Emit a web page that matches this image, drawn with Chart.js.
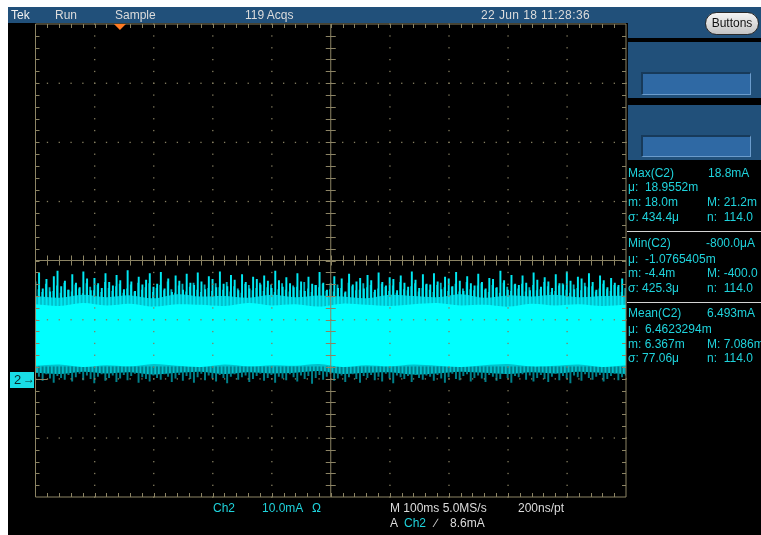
<!DOCTYPE html>
<html>
<head>
<meta charset="utf-8">
<script src="https://cdn.jsdelivr.net/npm/chart.js@4.4.1/dist/chart.umd.min.js"></script>
<style>
body{margin:0;background:#fff}
#scope{position:relative;width:761px;height:535px;overflow:hidden;font-family:"Liberation Sans",Arial,sans-serif;font-size:12px}
#scope div{position:absolute}
.t{line-height:12px;white-space:pre;color:#dcdcdc}
.c{color:#1fd3dc}
.box{background:#21507a}
.inner{background:#2f69a4;border-top:2px solid #173a5a;border-left:2px solid #173a5a;border-bottom:1px solid #6b9ccc;border-right:1px solid #6b9ccc;box-sizing:border-box}
.sep{height:1px;background:#d4d4d4;left:627px;width:134px}
canvas{position:absolute;left:0;top:0}
</style>
</head>
<body>
<div id="scope">
  <div style="left:8px;top:7px;width:753px;height:528px;background:#000"></div>
  <div class="box" style="left:8px;top:7px;width:753px;height:16px"></div>
  <div class="box" style="left:628px;top:23px;width:133px;height:15px"></div>
  <div class="box" style="left:628px;top:42px;width:133px;height:56px"></div>
  <div class="inner" style="left:641px;top:72px;width:110px;height:23px"></div>
  <div class="box" style="left:628px;top:105px;width:133px;height:55px"></div>
  <div class="inner" style="left:641px;top:135px;width:110px;height:22px"></div>
  <div class="sep" style="top:231px"></div>
  <div class="sep" style="top:302px"></div>

  <canvas id="scopeChart" width="761" height="535"></canvas>

  <!-- status bar -->
  <div class="t" style="left:11px;top:9px;color:#f0f0f0">Tek</div>
  <div class="t" style="left:55px;top:9px">Run</div>
  <div class="t" style="left:115px;top:9px">Sample</div>
  <div class="t" style="left:245px;top:9px">119 Acqs</div>
  <div class="t" style="left:481px;top:9px;letter-spacing:0.4px">22 Jun 18 11:28:36</div>
  <div style="left:705px;top:12px;width:54px;height:23px;box-sizing:border-box;border:1px solid #2a2a2a;border-radius:12px;background:linear-gradient(#f4f4f4,#c4c4c4);color:#111;line-height:21px;text-align:center">Buttons</div>

  <!-- measurements -->
  <div class="t c" style="left:628px;top:167px">Max(C2)</div>
  <div class="t c" style="left:708px;top:167px">18.8mA</div>
  <div class="t c" style="left:628px;top:181px">μ:  18.9552m</div>
  <div class="t c" style="left:628px;top:196px">m: 18.0m</div>
  <div class="t c" style="left:707px;top:196px">M: 21.2m</div>
  <div class="t c" style="left:628px;top:211px">σ: 434.4μ</div>
  <div class="t c" style="left:707px;top:211px">n:  114.0</div>

  <div class="t c" style="left:628px;top:237px">Min(C2)</div>
  <div class="t c" style="left:706px;top:237px">-800.0μA</div>
  <div class="t c" style="left:628px;top:253px">μ:  -1.0765405m</div>
  <div class="t c" style="left:628px;top:267px">m: -4.4m</div>
  <div class="t c" style="left:707px;top:267px">M: -400.0</div>
  <div class="t c" style="left:628px;top:282px">σ: 425.3μ</div>
  <div class="t c" style="left:707px;top:282px">n:  114.0</div>

  <div class="t c" style="left:628px;top:307px">Mean(C2)</div>
  <div class="t c" style="left:707px;top:307px">6.493mA</div>
  <div class="t c" style="left:628px;top:323px">μ:  6.4623294m</div>
  <div class="t c" style="left:628px;top:338px">m: 6.367m</div>
  <div class="t c" style="left:707px;top:338px">M: 7.086m</div>
  <div class="t c" style="left:628px;top:352px">σ: 77.06μ</div>
  <div class="t c" style="left:707px;top:352px">n:  114.0</div>

  <!-- channel marker -->
  <div style="left:10px;top:372px;width:24px;height:16px;background:#19dde6"></div>
  <div class="t" style="left:14px;top:374px;color:#0a2a2a;font-size:13px">2</div>
  <div class="t" style="left:23px;top:373px;color:#0a2a2a;font-size:12px;font-weight:bold">→</div>

  <!-- bottom readout -->
  <div class="t c" style="left:213px;top:502px">Ch2</div>
  <div class="t c" style="left:262px;top:502px">10.0mA</div>
  <div class="t c" style="left:312px;top:502px">Ω</div>
  <div class="t" style="left:390px;top:502px">M 100ms 5.0MS/s</div>
  <div class="t" style="left:518px;top:502px">200ns/pt</div>
  <div class="t" style="left:390px;top:517px">A</div>
  <div class="t c" style="left:404px;top:517px">Ch2</div>
  <div class="t" style="left:435px;top:517px">∕</div>
  <div class="t" style="left:450px;top:517px">8.6mA</div>
</div>

<script>
// time base: 10 div x 100 ms, vertical: 10 mA/div, ground 2 div below centre
const timeMin = 0
const timeMax = 1000
const mAMin = -20
const mAMax = 60
const triggerPosMs = 143

// envelope of the dense band, sampled every 40 ms
const bandTimes = [0,40,80,120,160,200,240,280,320,360,400,440,480,520,560,600,640,680,720,760,800,840,880,920,960,1000]
const fuzzTop = [14.0,13.7,14.2,13.8,14.1,13.6,14.3,13.9,14.0,13.7,14.2,13.8,14.1,13.9,13.6,14.2,14.0,13.8,14.3,13.7,14.1,13.9,14.2,13.8,14.0,14.1]
const coreTop = [12.6,12.3,12.8,12.4,12.7,12.2,12.6,12.5,12.3,12.8,12.4,12.6,12.2,12.7,12.5,12.3,12.6,12.8,12.4,12.5,12.2,12.7,12.4,12.6,12.3,12.5]
const coreBottom = [2.2,2.4,2.0,2.3,2.1,2.5,2.2,2.0,2.4,2.1,2.3,2.2,2.5,2.0,2.3,2.1,2.4,2.2,2.0,2.3,2.5,2.1,2.2,2.4,2.0,2.3]
const fuzzBottom = [1.0,0.8,1.2,0.9,1.1,0.7,1.0,1.2,0.8,1.1,0.9,1.0,1.3,0.8,1.0,1.1,0.7,0.9,1.2,1.0,0.8,1.1,0.9,1.2,1.0,0.8]

// individual spikes, one every 6.25 ms, plus a weaker set in between
const spikeStepMs = 6.25
const spikeTops = [
  16.4,17.9,15.2,16.8,14.7,17.3,18.2,15.6,16.5,15.0,
  17.6,16.2,15.4,18.1,16.9,14.9,17.0,16.1,15.3,17.8,
  16.3,15.7,17.5,16.6,15.1,18.3,16.4,14.8,17.2,15.9,
  16.7,17.8,15.5,16.0,18.0,15.2,16.9,14.6,17.4,16.5,
  15.0,17.7,16.2,15.8,17.9,16.4,15.1,17.3,16.8,15.4,
  18.1,16.0,15.6,17.5,16.7,14.9,17.6,16.3,15.2,17.2,
  16.8,15.9,17.4,16.5,15.3,18.2,16.6,15.5,17.1,16.1,
  15.4,17.8,16.4,14.8,17.2,16.0,15.8,18.0,16.2,15.0,
  16.1,17.3,15.3,16.9,14.7,17.7,15.9,16.4,17.0,15.2,
  17.5,16.6,15.0,17.9,16.3,15.7,17.1,16.8,14.9,17.4,
  16.2,15.5,18.1,16.7,15.3,17.6,16.0,15.9,17.8,16.4,
  15.1,17.2,16.9,15.6,18.0,16.5,14.8,17.3,16.1,15.7,
  17.7,16.3,15.2,17.0,16.8,15.4,18.2,16.6,15.0,17.5,
  16.0,15.8,17.4,16.2,14.9,17.9,16.7,15.5,17.1,16.4,
  15.3,17.6,16.1,15.9,18.1,16.5,15.1,17.2,16.9,15.6,
  17.8,16.3,15.0,17.4,16.6,15.4,17.0,16.2,15.8,16.9
]
const minorSpikeTops = [
  15.1,14.6,16.0,15.4,14.8,15.7,14.5,16.2,15.0,14.7,
  15.9,15.2,14.4,16.1,15.5,14.9,15.8,14.6,16.3,15.3,
  14.8,15.6,16.0,14.5,15.2,15.9,14.7,16.2,15.0,15.4,
  16.1,14.6,15.3,15.8,14.9,16.4,15.1,14.5,15.7,16.0,
  14.7,15.5,16.2,15.0,14.6,15.9,15.3,14.8,16.1,15.4,
  15.0,16.3,14.7,15.6,15.2,14.5,16.0,15.8,14.9,15.3,
  16.2,14.8,15.4,15.9,14.6,15.1,16.1,15.0,14.7,15.7,
  15.5,14.9,16.3,15.2,14.6,15.8,15.4,16.0,14.8,15.1,
  14.7,15.9,15.3,14.5,16.2,15.6,14.9,15.0,16.1,15.4,
  15.8,14.6,15.2,16.0,15.5,14.8,15.7,14.5,16.3,15.1,
  14.9,15.6,16.1,14.7,15.3,15.9,15.0,14.6,15.8,16.2,
  15.4,14.8,15.5,16.0,14.7,15.2,16.3,15.1,14.9,15.7,
  16.1,15.0,14.6,15.8,15.3,14.5,16.2,15.5,14.8,15.9,
  15.2,16.0,14.7,15.4,15.8,14.9,15.1,16.3,15.6,14.6,
  14.8,15.7,16.1,15.0,14.5,15.9,15.3,14.9,16.2,15.4,
  15.6,14.7,15.2,16.0,15.1,14.8,15.8,15.5,14.6,15.3
]
const spikeDips = [
  0.4,-0.3,0.8,0.1,-0.6,0.5,0.2,-0.1,0.7,-0.4,
  0.3,0.9,-0.2,0.6,0.0,-0.7,0.4,0.8,-0.3,0.2,
  0.6,-0.5,0.1,0.7,-0.2,0.5,0.9,-0.6,0.3,0.0,
  -0.4,0.6,0.2,-0.1,0.8,0.4,-0.5,0.1,0.7,-0.3,
  0.5,0.0,-0.6,0.3,0.9,-0.2,0.6,0.1,-0.4,0.7,
  0.2,-0.7,0.4,0.8,-0.1,0.3,0.6,-0.5,0.0,0.5,
  0.9,-0.3,0.2,0.7,-0.6,0.4,0.1,-0.2,0.8,0.3,
  -0.4,0.6,0.0,0.5,-0.8,0.2,0.7,-0.1,0.4,0.9,
  -0.3,0.1,0.6,-0.5,0.3,0.8,0.0,-0.6,0.5,0.2,
  0.7,-0.2,0.4,-0.4,0.9,0.1,-0.7,0.6,0.3,0.0,
  0.5,-0.5,0.8,0.2,-0.1,0.6,0.4,-0.3,0.7,0.1,
  -0.6,0.3,0.9,0.0,-0.2,0.5,0.8,-0.4,0.2,0.6,
  0.1,-0.5,0.7,0.4,-0.3,0.0,0.9,0.2,-0.6,0.5,
  0.3,0.8,-0.1,0.6,-0.4,0.2,0.7,0.0,-0.5,0.4,
  0.9,-0.2,0.5,0.1,-0.7,0.6,0.3,-0.3,0.8,0.2,
  -0.1,0.4,0.7,-0.4,0.0,0.5,0.9,-0.2,0.3,0.6
]
const spikeBase = 12
const dipBase = 2

const band = (vals) => vals.map((v, i) => ({ x: bandTimes[i], y: v }))
const spikeT = (i) => 2 + i * spikeStepMs

const graticule = {
  id: 'graticule',
  afterDatasetsDraw(chart) {
    const c = chart.ctx
    const a = chart.chartArea
    const dx = (a.right - a.left) / 10
    const dy = (a.bottom - a.top) / 8
    const cx = a.left + dx * 5
    const cy = a.top + dy * 4
    c.save()
    // dotted division lines
    c.fillStyle = '#857e60'
    for (let i = 1; i < 10; i++) {
      if (i === 5) continue
      const x = a.left + i * dx
      for (let k = 0; k <= 40; k++) c.fillRect(x - 0.5, a.top + k * dy / 5 - 0.5, 1.3, 1.3)
    }
    for (let j = 1; j < 8; j++) {
      if (j === 4) continue
      const y = a.top + j * dy
      for (let k = 0; k <= 50; k++) c.fillRect(a.left + k * dx / 5 - 0.5, y - 0.5, 1.3, 1.3)
    }
    // frame, centre cross and ticks
    c.strokeStyle = '#8c8464'
    c.lineWidth = 1
    c.beginPath()
    c.rect(a.left, a.top, a.right - a.left, a.bottom - a.top)
    c.moveTo(cx, a.top); c.lineTo(cx, a.bottom)
    c.moveTo(a.left, cy); c.lineTo(a.right, cy)
    for (let k = 1; k < 50; k++) {
      const x = Math.round(a.left + k * dx / 5) + 0.5
      c.moveTo(x, a.top); c.lineTo(x, a.top + 4)
      c.moveTo(x, a.bottom); c.lineTo(x, a.bottom - 4)
      c.moveTo(x, cy - 5); c.lineTo(x, cy + 5)
    }
    for (let k = 1; k < 40; k++) {
      const y = Math.round(a.top + k * dy / 5) + 0.5
      c.moveTo(a.left, y); c.lineTo(a.left + 4, y)
      c.moveTo(a.right, y); c.lineTo(a.right - 4, y)
      c.moveTo(cx - 5, y); c.lineTo(cx + 5, y)
    }
    // ground reference line for Ch2
    const gy = Math.round(chart.scales.y.getPixelForValue(0)) + 0.5
    c.moveTo(a.left, gy); c.lineTo(a.left + 12, gy)
    c.stroke()
    // trigger position marker
    const tx = chart.scales.x.getPixelForValue(triggerPosMs)
    c.fillStyle = '#ff7a22'
    c.beginPath()
    c.moveTo(tx - 6, a.top); c.lineTo(tx + 6, a.top); c.lineTo(tx, a.top + 6)
    c.closePath()
    c.fill()
    c.restore()
  }
}

const lineDs = (vals, color, fill, order) => ({
  type: 'line', data: band(vals), borderWidth: 0, pointRadius: 0, tension: 0.3,
  backgroundColor: color, borderColor: 'rgba(0,0,0,0)', fill: fill, order: order
})

new Chart(document.getElementById('scopeChart'), {
  type: 'bar',
  data: {
    datasets: [
      lineDs(coreBottom, '#00ffff', false, 1),        // 0
      lineDs(coreTop, '#00ffff', 0, 1),               // 1
      {
        type: 'bar', order: 2, backgroundColor: '#00e8f2', barThickness: 1.3,
        data: spikeTops.map((v, i) => ({ x: spikeT(i), y: [spikeBase, v] }))
      },                                               // 2
      {
        type: 'bar', order: 3, backgroundColor: '#00b4c0', barThickness: 1.2,
        data: minorSpikeTops.map((v, i) => ({ x: spikeT(i) + 3.1, y: [spikeBase, v] }))
      },                                               // 3
      {
        type: 'bar', order: 3, backgroundColor: '#00808a', barThickness: 1.3,
        data: spikeDips.map((v, i) => ({ x: spikeT(i) + 1.6, y: [v, dipBase] }))
      },                                               // 4
      lineDs(fuzzBottom, '#00c2cc', false, 4),         // 5
      lineDs(fuzzTop, '#00c2cc', 5, 4)                 // 6
    ]
  },
  options: {
    responsive: false,
    devicePixelRatio: 1,
    animation: false,
    layout: { padding: { left: 35.5, top: 24, right: 135, bottom: 38 } },
    plugins: { legend: { display: false }, tooltip: { enabled: false } },
    scales: {
      x: { type: 'linear', min: timeMin, max: timeMax, offset: false, display: false },
      y: { min: mAMin, max: mAMax, display: false }
    }
  },
  plugins: [graticule]
})
</script>
</body>
</html>
